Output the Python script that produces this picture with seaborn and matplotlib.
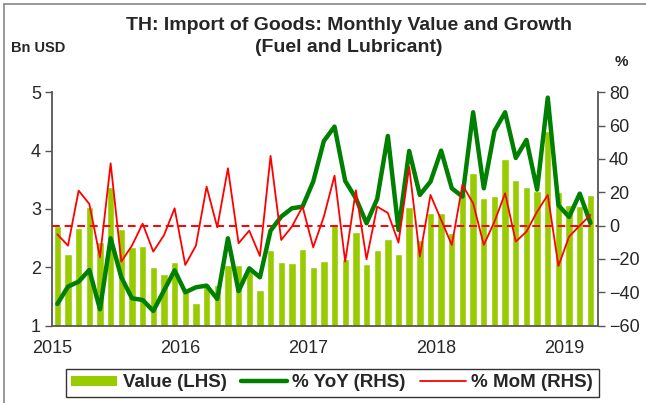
import numpy as np
import pandas as pd
import seaborn as sns
import matplotlib.pyplot as plt
from matplotlib.lines import Line2D
from matplotlib.patches import Patch

# monthly data, Jan 2015 - Mar 2019
years = ['2015', '2016', '2017', '2018', '2019']
value = [2.70, 2.22, 2.68, 3.04, 2.44, 3.38, 2.66, 2.34, 2.37, 2.01, 1.89, 2.09,
         1.60, 1.39, 1.71, 1.70, 2.04, 2.04, 1.98, 1.61, 2.29, 2.09, 2.07, 2.31,
         2.01, 2.10, 2.73, 2.14, 2.61, 2.06, 2.30, 2.49, 2.23, 3.03, 2.47, 2.93,
         2.93, 2.58, 3.27, 3.62, 3.18, 3.23, 3.86, 3.49, 3.38, 3.30, 4.34, 3.29,
         3.07, 3.05, 3.24]
yoy = [-47, -36.6, -33.6, -26.6, -50.2, -7.6, -31, -43.6, -44.6, -51.2, -39, -26.8,
       -40, -37, -36, -44, -7.6, -39.3, -25.6, -31, -3, 5.4, 10.4, 11.4,
       26.4, 50.8, 59.4, 26.8, 16.4, 1.4, 16, 53.8, -2.6, 44.8, 18.4, 26.4,
       45, 22.4, 17.4, 68, 22.4, 56.8, 68, 40.6, 51.4, 21.6, 76.8, 12.2,
       5.2, 19.2, 1.6]
mom = [-5.2, -12, 21, 13, -19, 37.4, -21.6, -12, 1.2, -15.6, -5.8, 10.4,
       -23.6, -12, 23.4, -1, 34.4, -10.6, -3, -18.2, 41.8, -8.6, -0.6, 11.4,
       -13, 5.4, 30, -21.6, 21.2, -20.2, 11.4, 7.6, -10.2, 35.2, -18.6, 18.4,
       3.4, -11.6, 24.4, 13.4, -11.6, 2.4, 19.4, -9.6, -3.6, 8.4, 18.4, -24.2,
       -6.6, 0, 6.4]

df = pd.DataFrame({'value': value, 'yoy': yoy, 'mom': mom})
df['x'] = np.arange(len(df)) + 0.5

sns.set_style('white')
plt.rcParams['font.family'] = ['Liberation Sans', 'DejaVu Sans']

bar_c = '#99CC00'
yoy_c = '#008000'
mom_c = '#FF0000'

fig = plt.figure(figsize=(6.46, 4.03), dpi=100)
ax = fig.add_axes([0.0805, 0.192, 0.845, 0.579])
sns.barplot(df, x='x', y='value', native_scale=True, width=0.69,
            color=bar_c, saturation=1, ax=ax, zorder=1)
ax.set_ylim(1, 5)
ax.set_xlim(0, 51.2)
ax.set_yticks([1, 2, 3, 4, 5])
ax.set_xticks([0, 12, 24, 36, 48])
ax.set_xticklabels(years)
ax.set_xlabel('')
ax.set_ylabel('')

ax2 = ax.twinx()
ax2.axhline(0, color=mom_c, lw=1.4, ls=(0, (4, 2.5)), zorder=2)
sns.lineplot(df, x='x', y='yoy', color=yoy_c, lw=3.2, ax=ax2, zorder=3)
sns.lineplot(df, x='x', y='mom', color=mom_c, lw=1.3, ax=ax2, zorder=4)
ax2.set_ylim(-60, 80)
ax2.set_yticks(range(-60, 81, 20))
ax2.set_ylabel('')
ax2.set_xlim(0, 51.2)

for a in (ax, ax2):
    a.spines['top'].set_visible(False)
    for s in ('left', 'right', 'bottom'):
        a.spines[s].set_color('#555555')
        a.spines[s].set_linewidth(1.3)
ax.spines['right'].set_visible(False)
ax2.spines['left'].set_visible(False)
ax2.spines['bottom'].set_visible(False)
ax.tick_params(axis='both', labelsize=13, direction='out', length=5, width=1, color='#555555', pad=3)
ax.tick_params(axis='x', pad=5)
ax2.tick_params(axis='y', labelsize=13, direction='out', length=5, width=1, color='#555555', pad=3)

fig.text(0.54, 0.937, 'TH: Import of Goods: Monthly Value and Growth',
         ha='center', va='center', fontsize=14, fontweight='bold')
fig.text(0.54, 0.882, '(Fuel and Lubricant)',
         ha='center', va='center', fontsize=14, fontweight='bold')
fig.text(0.017, 0.88, 'Bn USD', ha='left', va='center', fontsize=10.5, fontweight='bold')
fig.text(0.962, 0.845, '%', ha='center', va='center', fontsize=11, fontweight='bold')

# outer frame (left and top)
fig.add_artist(Line2D([0.006, 0.006], [0, 0.99], color='#888888', lw=1.2))
fig.add_artist(Line2D([0.006, 1], [0.99, 0.99], color='#888888', lw=1.2))

handles = [Patch(facecolor=bar_c, edgecolor='none'),
           Line2D([], [], color=yoy_c, lw=3.2),
           Line2D([], [], color=mom_c, lw=1.3)]
labels = ['Value (LHS)', '% YoY (RHS)', '% MoM (RHS)']
leg = fig.legend(handles, labels, loc='center', bbox_to_anchor=(0.514, 0.05),
                 ncol=3, frameon=True, fancybox=False, edgecolor='black',
                 prop={'weight': 'bold', 'size': 13.5}, handlelength=2.45,
                 handleheight=0.45, columnspacing=0.75, handletextpad=0.3,
                 borderpad=0.3, borderaxespad=0)
leg.get_frame().set_linewidth(1.0)

fig.savefig('out.png', dpi=100)
